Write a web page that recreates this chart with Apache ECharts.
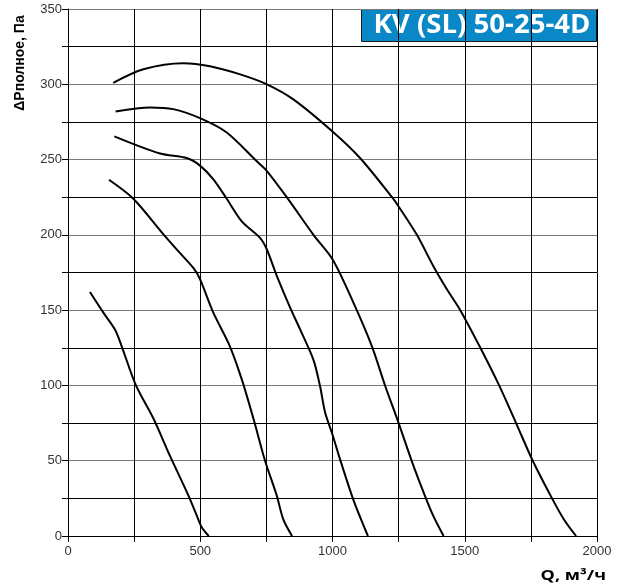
<!DOCTYPE html>
<html>
<head>
<meta charset="utf-8">
<script src="https://cdn.jsdelivr.net/npm/echarts@6/dist/echarts.min.js"></script>
<style>
html,body{margin:0;padding:0;background:#fff;}
#main{width:617px;height:587px;}
</style>
</head>
<body>
<div id="main"></div>
<script>
// кривые вентилятора, Q (м3/ч) и P (Па)
var q1=[83,133,178,203,257,323,386,455,487,505,532];
var p1=[162,148.5,137,126,100,78,53,27,13.5,6,0];
var q2=[155,247,360,423,474,499,549,612,657,701,745,789,814,847];
var p2=[236.6,224,200.5,188,178,170.6,148.5,126,104,78,50,27,11,0];
var q3=[175,348,449,499,549,600,657,726,751,789,839,878,928,953,972,998,1029,1079,1134];
var p3=[265.4,254,251,246,237,224,209,198,190.6,173,152,137,117,99.4,82,68.4,50.7,24,0];
var q4=[180,310,398,499,600,713,749,827,928,1001,1079,1149,1199,1250,1300,1351,1382,1420];
var p4=[282,284.6,283.5,277.5,268,249,243,225,200,183.5,155,126,99.8,75,49.6,26,13,0];
var q5=[171,285,436,537,651,752,852,1001,1105,1225,1250,1319,1382,1433,1483,1559,1630,1694,1757,1830,1875,1921];
var p5=[301,310,314,312,306.6,300,290,268.5,250.9,225,218.8,200,179,163.7,150,125,100,75,50,25,11,0];
var title='KV (SL) 50-25-4D';

var labelFont="'Liberation Sans',Arial,sans-serif";

function pairs(q,p){
	var d=[];
	for(var i=0;i<q.length;i++){
		d.push([q[i],p[i]]);
	}
	return d;
}
function curve(q,p){
	return {
		type:'line',
		data:pairs(q,p),
		smooth:0.3,
		showSymbol:false,
		lineStyle:{color:'#000',width:2},
		silent:true
	};
}

var myChart=echarts.init(document.getElementById('main'));
myChart.setOption({
	animation:false,
	grid:{left:68,right:20,top:9,bottom:51},
	xAxis:{
		type:'value',min:0,max:2000,interval:250,
		axisLine:{lineStyle:{color:'#000',width:1}},
		axisTick:{length:6,lineStyle:{color:'#000'}},
		axisLabel:{
			color:'#333',fontFamily:labelFont,fontSize:13,margin:9,
			formatter:function(v){ return v%500==0 ? v : ''; }
		},
		splitLine:{lineStyle:{color:'#000',width:1}}
	},
	yAxis:{
		type:'value',min:0,max:350,interval:25,
		axisLine:{lineStyle:{color:'#000',width:1}},
		axisTick:{length:6,lineStyle:{color:'#000'}},
		axisLabel:{
			color:'#333',fontFamily:labelFont,fontSize:13,margin:6,
			formatter:function(v){ return v%50==0 ? v : ''; }
		},
		splitLine:{lineStyle:{color:['#7a7a7a','#000'],width:1.2}}
	},
	graphic:[
		{
			type:'text',x:20.5,y:63,rotation:Math.PI/2,
			style:{text:'ΔPполное, Па',fill:'#000',font:"bold 14px 'Liberation Sans',sans-serif",align:'center',verticalAlign:'middle'}
		},
		{
			type:'text',x:606,y:576,scaleX:1.2,
			style:{text:'Q, м³/ч',fill:'#000',font:"bold 15px 'Open Sans',sans-serif",align:'right',verticalAlign:'middle'}
		},
		{
			type:'rect',shape:{x:361.5,y:9.5,width:235,height:32},
			style:{fill:'#0a87c6',stroke:'#1a1a1a',lineWidth:1}
		},
		{
			type:'text',x:482,y:25.5,scaleX:1.06,
			style:{text:title,fill:'#fff',font:"bold 26px 'Open Sans',sans-serif",align:'center',verticalAlign:'middle'}
		}
	],
	series:[curve(q1,p1),curve(q2,p2),curve(q3,p3),curve(q4,p4),curve(q5,p5)]
});
</script>
</body>
</html>
